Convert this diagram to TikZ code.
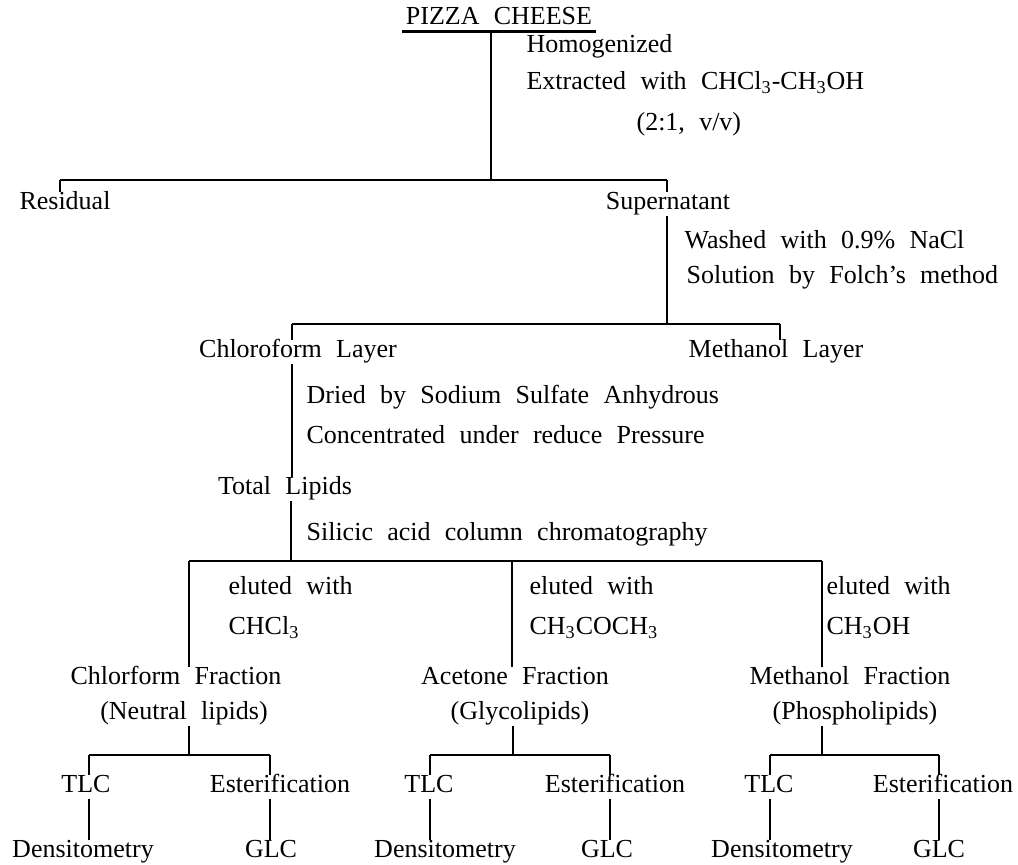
\documentclass[tikz,border=0pt]{standalone}
\usepackage{fontspec}
\setmainfont[WordSpace=2.2]{Liberation Serif}
\usetikzlibrary{calc, positioning}

\begin{document}
\begin{tikzpicture}[x=0.5pt, y=-0.5pt,
                    every node/.style={font=\fontsize{13}{15}\selectfont, inner sep=1.5pt, text height=1.6ex, text depth=0.3ex, yshift=-1pt},
                    note/.style={anchor=west},
                    bar/.style={line width=1pt},
                    every path/.style={line width=0.6pt}]
                    \useasboundingbox (0,0) rectangle (1018,865);

                    \node (P) at (499,17) {PIZZA CHEESE};
                    \node[note] (hom) at (523,45) {Homogenized};
                    \node[note] (ext) at (523,82) {Extracted with CHCl\textsubscript{3}-CH\textsubscript{3}OH};
                    \node[note] (rat) at (633,123) {(2:1, v/v)};
                    \node (res) at (65,202) {Residual};
                    \node (sup) at (668,202) {Supernatant};

                    \node[note] (wash) at (681,241) {Washed with 0.9\% NaCl};
                    \node[note] (fol) at (683,276) {Solution by Folch's method};
                    \node (chl) at (298,350) {Chloroform Layer};
                    \node (mel) at (776,350) {Methanol Layer};

                    \node[note] (dry) at (303,396) {Dried by Sodium Sulfate Anhydrous};
                    \node[note] (con) at (303,436) {Concentrated under reduce Pressure};
                    \node (tl) at (285,487) {Total Lipids};
                    \node[note] (sil) at (303,533) {Silicic acid column chromatography};

                    \node[note] (el1) at (225,587) {eluted with};
                    \node[note] (cs1) at (225,627) {CHCl\textsubscript{3}};
                    \node[note] (el2) at (526,587) {eluted with};
                    \node[note] (cs2) at (526,627) {CH\textsubscript{3}COCH\textsubscript{3}};
                    \node[note] (el3) at (823,587) {eluted with};
                    \node[note] (cs3) at (823,627) {CH\textsubscript{3}OH};

                    \node (cf) at (176,677) {Chlorform Fraction};
                    \node (nl) at (184,712) {(Neutral lipids)};
                    \node (af) at (515,677) {Acetone Fraction};
                    \node (gl) at (520,712) {(Glycolipids)};
                    \node (mf) at (850,677) {Methanol Fraction};
                    \node (pl) at (855,712) {(Phospholipids)};

                    \node (tlc1) at (86,785) {TLC};
                    \node (est1) at (280,785) {Esterification};
                    \node (den1) at (83,850) {Densitometry};
                    \node (glc1) at (271,850) {GLC};
                    \node (tlc2) at (429,785) {TLC};
                    \node (est2) at (615,785) {Esterification};
                    \node (den2) at (445,850) {Densitometry};
                    \node (glc2) at (607,850) {GLC};
                    \node (tlc3) at (769,785) {TLC};
                    \node (est3) at (943,785) {Esterification};
                    \node (den3) at (782,850) {Densitometry};
                    \node (glc3) at (939,850) {GLC};

                    \coordinate (s1) at (491,178);
                    \coordinate (s1l) at (60,178);
                    \coordinate (s1r) at (667,178);
                    \coordinate (s2) at (667,322);
                    \coordinate (s2l) at (292,322);
                    \coordinate (s2r) at (780,322);
                    \coordinate (s3) at (291,559);
                    \coordinate (s3l) at (189,559);
                    \coordinate (s3m) at (512,559);
                    \coordinate (s3r) at (822,559);
                    \coordinate (t1) at (189,753);
                    \coordinate (t1l) at (89,753);
                    \coordinate (t1r) at (270,753);
                    \coordinate (t2) at (513,753);
                    \coordinate (t2l) at (430,753);
                    \coordinate (t2r) at (610,753);
                    \coordinate (t3) at (822,753);
                    \coordinate (t3l) at (770,753);
                    \coordinate (t3r) at (939,753);

                    \draw[line width=1.2pt] (P.south west) -- (P.south east);
                    \draw[bar] (s1l) -- (s1r) (s2l) -- (s2r) (s3l) -- (s3r)
                    (t1l) -- (t1r) (t2l) -- (t2r) (t3l) -- (t3r);

                    \draw
                    (P.south -| s1) -- (s1)
                    (s1l) -- (s1l |- res.north)
                    (s1r) -- (s1r |- sup.north)
                    (sup.south -| s2) -- (s2)
                    (s2l) -- (s2l |- chl.north)
                    (s2r) -- (s2r |- mel.north)
                    (chl.south -| s2l) -- (tl.north -| s2l)
                    (tl.south -| s3) -- (s3)
                    (s3l) -- (s3l |- cf.north)
                    (s3m) -- (s3m |- af.north)
                    (s3r) -- (s3r |- mf.north);

                    \draw
                    (nl.south -| t1) -- (t1)
                    (gl.south -| t2) -- (t2)
                    (pl.south -| t3) -- (t3)
                    (t1l) -- (t1l |- tlc1.north) (t1r) -- (t1r |- est1.north)
                    (t2l) -- (t2l |- tlc2.north) (t2r) -- (t2r |- est2.north)
                    (t3l) -- (t3l |- tlc3.north) (t3r) -- (t3r |- est3.north)
                    (tlc1.south -| t1l) -- (den1.north -| t1l) (est1.south -| t1r) -- (glc1.north -| t1r)
                    (tlc2.south -| t2l) -- (den2.north -| t2l) (est2.south -| t2r) -- (glc2.north -| t2r)
                    (tlc3.south -| t3l) -- (den3.north -| t3l) (est3.south -| t3r) -- (glc3.north -| t3r);
                \end{tikzpicture}
\end{document}
